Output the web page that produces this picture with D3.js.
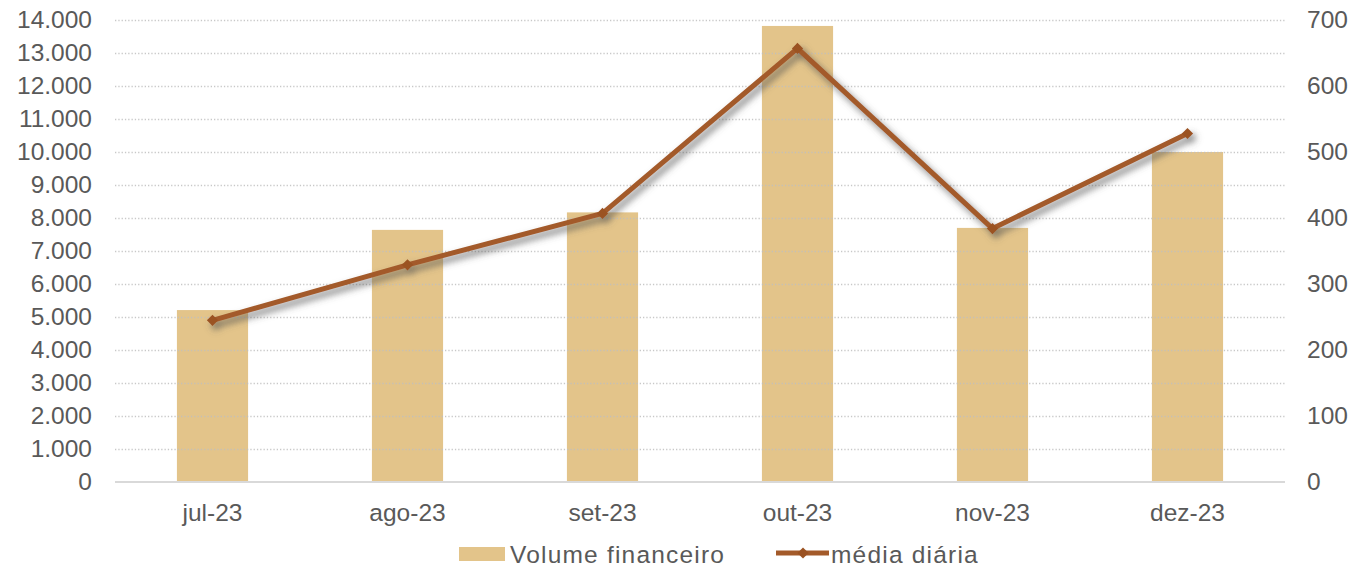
<!DOCTYPE html>
<html>
<head>
<meta charset="utf-8">
<script src="https://cdn.jsdelivr.net/npm/d3@7"></script>
<style>
  html, body { margin: 0; padding: 0; background: #fff; }
  svg { display: block; }
  text { font-family: "Liberation Sans", Arial, sans-serif; fill: #595959; }
</style>
</head>
<body>
<svg id="chart" width="1360" height="569"></svg>
<script>
// Monthly financial volume (left axis) and daily average (right axis)
const months = ["jul-23", "ago-23", "set-23", "out-23", "nov-23", "dez-23"];
const volume = [5210, 7640, 8170, 13820, 7700, 10000];
const dailyAvg = [245, 329, 407, 657, 384, 528];
const leftTicks = [0, 1000, 2000, 3000, 4000, 5000, 6000, 7000, 8000, 9000, 10000, 11000, 12000, 13000, 14000];
const rightTicks = [0, 100, 200, 300, 400, 500, 600, 700];
const seriesNames = ["Volume financeiro", "média diária"];

const svg = d3.select("#chart");
const plotLeft = 115, plotRight = 1285, plotTop = 20, plotBottom = 482;
const fontSize = 24.5;
const fontFamily = '"Liberation Sans", Arial, sans-serif';

const x = d3.scaleBand().domain(months).range([plotLeft, plotRight]).padding(0);
const yL = d3.scaleLinear().domain([0, 14000]).range([plotBottom, plotTop]);
const yR = d3.scaleLinear().domain([0, 700]).range([plotBottom, plotTop]);

const barColor = "#E3C48A";
const lineColor = "#A35A2A";
const markerColor = "#9B5222";

// drop shadow for the line and its markers
const defs = svg.append("defs");
const f = defs.append("filter").attr("id", "shadow")
  .attr("x", "-10%").attr("y", "-20%").attr("width", "130%").attr("height", "160%");
f.append("feDropShadow").attr("dx", 3.5).attr("dy", 4.5).attr("stdDeviation", 3.5)
  .attr("flood-color", "#505050").attr("flood-opacity", 0.75);

const fmt = d => d3.format(",")(d).replace(/,/g, ".");

// bars
const bw = x.bandwidth() * 0.365;
svg.append("g").selectAll("rect").data(volume).join("rect")
  .attr("x", (d, i) => x(months[i]) + x.bandwidth() / 2 - bw / 2)
  .attr("y", d => yL(d))
  .attr("width", bw)
  .attr("height", d => yL(0) - yL(d))
  .attr("fill", barColor);

// dotted gridlines
svg.append("g").selectAll("line").data(leftTicks.filter(t => t > 0)).join("line")
  .attr("x1", plotLeft).attr("x2", plotRight)
  .attr("y1", d => Math.round(yL(d)) + 0.5).attr("y2", d => Math.round(yL(d)) + 0.5)
  .attr("stroke", "#BFBFBF").attr("stroke-width", 1.3)
  .attr("stroke-dasharray", "1.3,2").attr("opacity", 0.85);

// baseline
svg.append("line").attr("x1", plotLeft).attr("x2", plotRight)
  .attr("y1", plotBottom).attr("y2", plotBottom)
  .attr("stroke", "#D9D9D9").attr("stroke-width", 2);

function styleText(g) {
  g.select(".domain").remove();
  g.selectAll("text").attr("font-size", fontSize).attr("fill", "#595959")
    .style("font-family", fontFamily);
}

// left axis labels
const axL = d3.axisLeft(yL).tickValues(leftTicks).tickFormat(fmt).tickSize(0).tickPadding(0);
svg.append("g").attr("transform", "translate(92,0)").call(axL).call(styleText);

// right axis labels
const axR = d3.axisRight(yR).tickValues(rightTicks).tickFormat(d3.format("d")).tickSize(0).tickPadding(0);
svg.append("g").attr("transform", "translate(1307,0)").call(axR).call(styleText);

// category labels
const axB = d3.axisBottom(x).tickSize(0).tickPadding(0);
svg.append("g").attr("transform", "translate(0,504)").call(axB).call(styleText);

// line and markers share one shadow
const cx = i => x(months[i]) + x.bandwidth() / 2;
const line = d3.line().x((d, i) => cx(i)).y(d => yR(d));
const series = svg.append("g").attr("filter", "url(#shadow)");
series.append("path").datum(dailyAvg).attr("d", line)
  .attr("fill", "none").attr("stroke", lineColor).attr("stroke-width", 5)
  .attr("stroke-linejoin", "round");

const diamond = d3.symbol().type(d3.symbolDiamond2).size(80);
series.append("g").selectAll("path").data(dailyAvg).join("path")
  .attr("d", diamond)
  .attr("transform", (d, i) => `translate(${cx(i)},${yR(d)})`)
  .attr("fill", markerColor);

// legend
const lg = svg.append("g");
lg.append("rect").attr("x", 459).attr("y", 547).attr("width", 46).attr("height", 14).attr("fill", barColor);
lg.append("text").attr("x", 510).attr("y", 563).attr("font-size", fontSize)
  .attr("letter-spacing", 1.2).text(seriesNames[0]);
lg.append("line").attr("x1", 776).attr("x2", 829).attr("y1", 553).attr("y2", 553)
  .attr("stroke", lineColor).attr("stroke-width", 5);
lg.append("path").attr("d", diamond).attr("transform", "translate(803,553)").attr("fill", markerColor);
lg.append("text").attr("x", 831).attr("y", 563).attr("font-size", fontSize)
  .attr("letter-spacing", 1.2).text(seriesNames[1]);
</script>
</body>
</html>
